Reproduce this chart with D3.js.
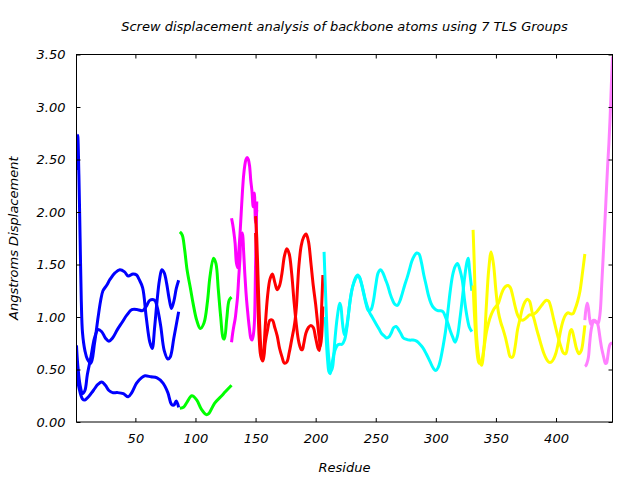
<!DOCTYPE html>
<html><head><meta charset="utf-8">
<script src="https://cdnjs.cloudflare.com/ajax/libs/d3/7.8.5/d3.min.js"></script>
<style>
html,body{margin:0;padding:0;background:#fff;}
svg text{font-family:"DejaVu Sans",sans-serif;font-style:italic;font-size:13px;fill:#000;}
</style></head>
<body>
<svg id="chart" width="640" height="480"></svg>
<script>
const chartTitle = "Screw displacement analysis of backbone atoms using 7 TLS Groups";
const xTitle = "Residue";
const yTitle = "Angstroms Displacement";
const xTicks = [50,100,150,200,250,300,350,400];
const yTicks = [0,0.5,1,1.5,2,2.5,3,3.5];

// Group 1 (blue)
const blueResA = [1,2,3,4,5,6,8,10,13,16,19,21,23,26,29,33,37,41,44,48,51,53,56,59,62,64,66,68,70,72,74,76,78,80,82,84,86];
const blueA = [2.40,2.73,2.35,1.75,1.15,0.85,0.68,0.6,0.56,0.75,1.0,1.15,1.25,1.3,1.36,1.42,1.45,1.43,1.39,1.41,1.40,1.36,1.28,1.0,0.76,0.70,0.9,1.15,1.35,1.45,1.42,1.32,1.18,1.08,1.15,1.27,1.35];
const blueResB = [1,2,4,6,8,10,13,16,19,22,25,28,31,35,39,43,47,52,56,59,62,66,68,71,74,77,79,82,86];
const blueB = [0.73,0.55,0.35,0.27,0.3,0.45,0.62,0.8,0.88,0.86,0.8,0.77,0.8,0.88,0.95,1.02,1.07,1.07,1.06,1.1,1.16,1.16,1.1,0.92,0.68,0.6,0.62,0.8,1.05];
const blueResC = [1,3,6,8,11,15,19,22,25,28,31,35,40,44,47,51,55,58,63,68,73,77,80,82,84,86];
const blueC = [0.47,0.33,0.22,0.21,0.24,0.3,0.36,0.38,0.35,0.3,0.28,0.28,0.27,0.24,0.28,0.37,0.42,0.44,0.43,0.42,0.37,0.28,0.17,0.16,0.2,0.14];

// Group 2 (green)
const greenResA = [87,89,91,93,96,98,101,104,107,110,112,115,117,119,121,123,124,126,128,130];
const greenA = [1.81,1.78,1.64,1.45,1.26,1.13,0.97,0.89,0.94,1.15,1.38,1.56,1.51,1.26,1.0,0.8,0.79,0.98,1.16,1.19];
const greenResB = [87,90,93,97,101,105,109,111,116,121,125,130];
const greenB = [0.13,0.14,0.19,0.25,0.21,0.12,0.07,0.08,0.18,0.24,0.29,0.35];

// Group 3 (magenta)
const magRes = [130,131,132,133,134,135,136,137,138,139,140,141,142,143,144,145,146,147,148,149,150,151];
const magA = [1.94,1.88,1.8,1.7,1.52,1.47,1.62,1.78,1.98,2.18,2.34,2.44,2.5,2.52,2.5,2.44,2.3,2.2,2.05,2.18,1.9,2.02];
const magB = [0.76,0.85,0.92,0.98,1.08,1.19,1.38,1.55,1.78,1.8,1.64,1.42,1.24,1.1,0.98,0.88,0.8,0.78,0.82,0.94,1.5,2.1];

// Group 4 (red)
const redResA = [150,151,152,153,154,155,156,157,158,160,162,164,166,168,170,172,174,176,178,180,182,184,186,188,189,190,192,194,196,198,200,202,203,204,205,206];
const redA = [1.96,1.75,1.4,1.05,0.78,0.62,0.59,0.7,0.9,1.2,1.36,1.41,1.33,1.26,1.3,1.42,1.58,1.65,1.6,1.42,1.15,0.92,0.76,0.69,0.69,0.74,0.85,0.9,0.92,0.9,0.8,0.7,0.68,0.8,1.1,1.4];
const redResB = [150,151,152,153,154,155,156,157,158,160,162,164,166,168,170,172,174,176,178,180,182,183,184,185,186,188,190,192,194,196,198,200,202,203,204,205,206];
const redB = [1.8,1.5,1.1,0.8,0.65,0.6,0.58,0.63,0.75,0.88,0.97,0.97,0.9,0.82,0.7,0.62,0.56,0.57,0.66,0.78,0.9,0.98,1.1,1.3,1.48,1.68,1.76,1.79,1.72,1.52,1.3,1.12,0.9,0.8,0.72,0.82,1.1];

// Group 5 (cyan)
const cyanResA = [207,208,209,210,211,212,213,214,215,216,218,220,221,222,223,224,225,227,229,231,233,235,237,239,241,243,245,247,249,251,253,255,257,259,261,263,265,267,269,271,273,275,278,281,284,286,289,292,295,298,300,302,304,306,308,310,312,314,316,318,320,322,324,326,328,330];
const cyanA = [1.62,1.3,1.0,0.75,0.6,0.52,0.49,0.52,0.62,0.78,1.0,1.13,1.1,0.98,0.88,0.83,0.86,1.0,1.18,1.3,1.37,1.4,1.36,1.28,1.18,1.1,1.04,1.0,0.96,0.92,0.88,0.84,0.82,0.8,0.81,0.85,0.9,0.91,0.88,0.84,0.8,0.79,0.78,0.78,0.77,0.75,0.71,0.65,0.58,0.51,0.49,0.52,0.6,0.72,0.86,1.05,1.25,1.4,1.48,1.51,1.45,1.35,1.15,1.0,0.9,0.86];
const cyanResB = [208,209,210,211,212,213,214,216,218,220,222,224,226,228,230,232,234,236,238,240,242,244,246,248,250,252,254,256,258,260,262,264,266,268,270,272,274,276,278,280,282,284,286,288,290,292,294,296,298,300,302,304,306,308,310,312,314,316,318,320,322,324,326,327,328,330];
const cyanB = [1.0,0.75,0.58,0.48,0.46,0.5,0.58,0.68,0.73,0.74,0.74,0.78,0.9,1.1,1.25,1.33,1.38,1.39,1.32,1.22,1.12,1.06,1.07,1.15,1.3,1.42,1.45,1.42,1.36,1.3,1.22,1.16,1.12,1.11,1.15,1.22,1.3,1.37,1.45,1.53,1.58,1.61,1.6,1.52,1.4,1.3,1.2,1.13,1.09,1.07,1.06,1.06,1.05,1.0,0.94,0.87,0.81,0.76,0.82,0.98,1.17,1.38,1.53,1.56,1.45,1.25];

// Group 6 (yellow)
const yellowResA = [331,332,333,334,336,338,340,342,344,346,348,350,352,354,356,358,360,362,364,366,368,370,372,374,376,378,380,382,384,386,388,390,392,394,396,398,400,402,404,406,408,410,412,414,416,418,420,422,424];
const yellowA = [1.83,1.5,1.1,0.8,0.6,0.54,0.7,1.1,1.45,1.62,1.5,1.25,1.05,0.95,0.88,0.8,0.7,0.62,0.62,0.72,0.88,0.98,1.08,1.14,1.17,1.15,1.05,0.97,0.88,0.8,0.72,0.65,0.6,0.57,0.57,0.6,0.66,0.76,0.88,0.97,1.02,1.04,1.03,1.03,1.08,1.15,1.25,1.42,1.6];
const yellowResB = [331,332,333,334,335,336,338,340,342,344,346,348,350,352,354,356,358,360,362,364,366,368,370,372,374,376,378,380,382,384,386,388,390,392,394,396,398,401,404,406,408,410,412,413,415,417,419,421,423,424];
const yellowB = [1.3,1.05,0.85,0.7,0.6,0.56,0.58,0.7,0.85,0.95,1.02,1.07,1.1,1.13,1.2,1.26,1.29,1.3,1.28,1.2,1.1,1.02,0.98,0.97,0.98,1.0,1.02,1.02,1.03,1.05,1.08,1.11,1.14,1.16,1.15,1.08,0.98,0.84,0.72,0.66,0.65,0.75,0.87,0.88,0.8,0.7,0.65,0.68,0.82,0.92];

// Group 7 (pink)
const pinkRes = [424,425,426,427,428,429,430,431,432,433,434,435,436,437,438,439,440,441,442,443,444,445,446,447];
const pinkA = [0.53,0.54,0.57,0.62,0.75,0.86,0.92,0.96,0.97,0.96,0.95,0.94,0.98,1.08,1.3,1.52,1.75,1.98,2.22,2.45,2.65,2.9,3.2,3.48];
const pinkB = [0.97,1.08,1.13,1.08,0.98,0.93,0.95,0.97,0.96,0.95,0.95,0.92,0.85,0.77,0.7,0.65,0.6,0.56,0.56,0.62,0.7,0.74,0.75,0.75];

const groupColors = ["#0000ff","#00ff00","#ff00ff","#ff0000","#00ffff","#ffff00","#ff80ff"];
const series = [
  {g:0, res:blueResA, val:blueA},{g:0, res:blueResB, val:blueB},{g:0, res:blueResC, val:blueC},
  {g:1, res:greenResA, val:greenA},{g:1, res:greenResB, val:greenB},
  {g:2, res:magRes, val:magA},{g:2, res:magRes, val:magB},
  {g:3, res:redResA, val:redA},{g:3, res:redResB, val:redB},
  {g:4, res:cyanResA, val:cyanA},{g:4, res:cyanResB, val:cyanB},
  {g:5, res:yellowResA, val:yellowA},{g:5, res:yellowResB, val:yellowB},
  {g:6, res:pinkRes, val:pinkA},{g:6, res:pinkRes, val:pinkB}
];

const L = 76.5, R = 612.5, T = 54.5, B = 422;
const svg = d3.select("#chart");
const x = d3.scaleLinear().domain([1,447]).range([L,R]);
const y = d3.scaleLinear().domain([0,3.5]).range([B,T]);

svg.append("rect").attr("width",640).attr("height",480).attr("fill","#fff");

svg.append("clipPath").attr("id","plotclip").append("rect")
  .attr("x",L).attr("y",T-2).attr("width",R-L).attr("height",B-T+2);

const line = d3.line().x(d=>x(d[0])).y(d=>y(d[1])).curve(d3.curveCatmullRom.alpha(0.5));
const plot = svg.append("g").attr("clip-path","url(#plotclip)");
series.forEach(s=>{
  const pts = s.res.map((r,i)=>[r,s.val[i]]);
  plot.append("path").attr("d",line(pts)).attr("fill","none")
    .attr("stroke",groupColors[s.g]).attr("stroke-width",3)
    .attr("stroke-linejoin","round").attr("stroke-linecap","butt");
});

// axes
const fmt = d3.format(".2f");
const gx = svg.append("g").attr("transform",`translate(0,${B})`)
  .call(d3.axisBottom(x).tickValues(xTicks).tickSizeInner(-4).tickSizeOuter(0).tickPadding(12));
const gy = svg.append("g").attr("transform",`translate(${L},0)`)
  .call(d3.axisLeft(y).tickValues(yTicks).tickFormat(fmt).tickSizeInner(-4).tickSizeOuter(0).tickPadding(11));
const gx2 = svg.append("g").attr("transform",`translate(0,${T})`)
  .call(d3.axisTop(x).tickValues(xTicks).tickSizeInner(-4).tickSizeOuter(0).tickFormat(""));
const gy2 = svg.append("g").attr("transform",`translate(${R},0)`)
  .call(d3.axisRight(y).tickValues(yTicks).tickSizeInner(-4).tickSizeOuter(0).tickFormat(""));
[gx,gy,gx2,gy2].forEach(g=>{
  g.select(".domain").remove();
  g.selectAll(".tick line").attr("stroke","#000");
  g.selectAll("text").attr("fill","#000");
  g.attr("font-family",null).attr("font-size",null);
});
svg.append("rect").attr("x",L).attr("y",T).attr("width",R-L).attr("height",B-T)
  .attr("fill","none").attr("stroke","#000").attr("stroke-width",1);

svg.append("text").attr("x",(L+R)/2).attr("y",31).attr("text-anchor","middle").text(chartTitle);
svg.append("text").attr("x",(L+R)/2).attr("y",472).attr("text-anchor","middle").text(xTitle);
svg.append("text").attr("transform",`translate(18,${(T+B)/2}) rotate(-90)`).attr("text-anchor","middle").text(yTitle);
</script>
</body></html>
